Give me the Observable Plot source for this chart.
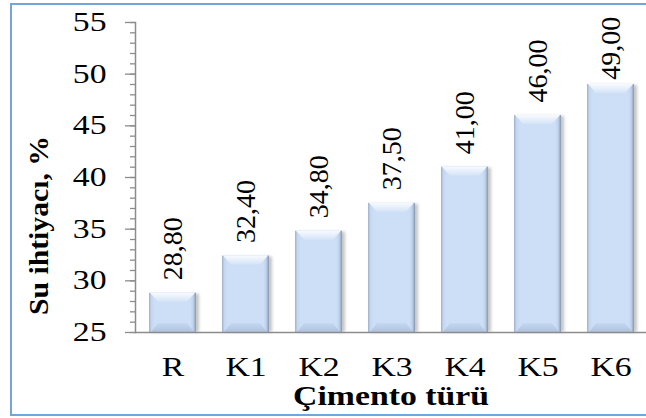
<!DOCTYPE html>
<html>
<head>
<meta charset="utf-8">
<script src="https://cdn.jsdelivr.net/npm/d3@7"></script>
<script src="https://cdn.jsdelivr.net/npm/@observablehq/plot@0.6"></script>
<style>
  body { margin: 0; background: #fff; }
  #chart { position: relative; width: 646px; height: 418px; overflow: hidden; }
  #chart svg { position: absolute; left: 0; top: 0; }
  #box { position: absolute; left: 10px; top: 3px; width: 680px; height: 413px;
         border: 2px solid #6ea6dd; box-sizing: border-box; pointer-events: none; }
</style>
</head>
<body>
<div id="chart"><div id="box"></div></div>
<script>
// Water demand by cement type
const cements = ["R", "K1", "K2", "K3", "K4", "K5", "K6"];
const water = [28.80, 32.40, 34.80, 37.50, 41.00, 46.00, 49.00];
const yTicks = [25, 30, 35, 40, 45, 50, 55];
const yMinorTicks = d3.range(25, 56, 1);
const yTitle = "Su ihtiyacı, %";
const xTitle = "Çimento türü";
// highest value at which a rotated label can start and still fit above the bar
const labelCeiling = 48.2;

const data = cements.map((c, i) => ({cement: c, water: water[i]}));
const fmt = (v) => v.toFixed(2).replace(".", ",");
const serif = "Liberation Serif";
const axisGray = "#8c8c8c";

const chart = Plot.plot({
  width: 646,
  height: 418,
  marginLeft: 135,
  marginTop: 22,
  marginBottom: 86,
  marginRight: 0,
  style: {fontFamily: serif, fontSize: "27px", color: "#000", background: "transparent", overflow: "visible"},
  x: {domain: cements, range: [135, 648], paddingInner: 0.36, paddingOuter: 0.18},
  y: {domain: [25, 55]},
  marks: [
    Plot.barY(data, {x: "cement", y1: 25, y2: "water", fill: "url(#barFill)"}),
    Plot.ruleY([25], {stroke: axisGray, strokeWidth: 1.5}),
    Plot.frame({anchor: "left", stroke: axisGray, strokeWidth: 1.5}),
    Plot.axisY(yMinorTicks, {tickSize: 5, text: null, label: null, stroke: axisGray, strokeWidth: 1.3}),
    Plot.axisY(yTicks, {tickSize: 10, tickPadding: 19, label: null, stroke: axisGray, strokeWidth: 1.3, fontSize: 27}),
    Plot.axisX({tickSize: 0, tickPadding: 24, label: null, fontSize: 27}),
    Plot.text(data, {
      x: "cement",
      y: (d) => Math.min(d.water, labelCeiling),
      text: (d) => fmt(d.water),
      rotate: -90,
      textAnchor: "start",
      lineAnchor: "middle",
      dy: -13,
      fontSize: 28
    }),
    Plot.text([yTitle], {
      frameAnchor: "left", rotate: -90, dx: -96, dy: 48,
      textAnchor: "middle", lineAnchor: "middle",
      fontSize: 27, fontWeight: "bold"
    }),
    Plot.text([xTitle], {
      frameAnchor: "bottom", dy: 64,
      textAnchor: "middle", lineAnchor: "middle",
      fontSize: 27, fontWeight: "bold"
    })
  ]
});

document.getElementById("chart").insertBefore(chart, document.getElementById("box"));

const svg = d3.select(chart);
svg.selectAll("text").attr("font-family", serif).style("font-family", serif).attr("fill", "#000");
const defs = svg.insert("defs", ":first-child");

function linear(id, horizontal, stops) {
  const g = defs.append("linearGradient").attr("id", id)
    .attr("x1", 0).attr("y1", 0).attr("x2", horizontal ? 1 : 0).attr("y2", horizontal ? 0 : 1);
  stops.forEach(([o, c]) => g.append("stop").attr("offset", o).attr("stop-color", c));
}
linear("barFill", true, [[0, "#9fb1ca"], [0.05, "#c4d7f0"], [0.12, "#cddff6"], [0.88, "#cddff6"], [0.94, "#bfd2ec"], [1, "#8797ae"]]);
linear("bevelTop", false, [[0, "#f8fbff"], [1, "#d4e3f7"]]);
linear("bevelBottom", false, [[0, "#c4d7f0"], [1, "#abc0dc"]]);
defs.append("filter").attr("id", "soft").attr("x", "-20%").attr("y", "-20%").attr("width", "140%").attr("height", "140%")
  .append("feGaussianBlur").attr("stdDeviation", 1.6);

// bevelled faces and a soft shadow on each bar
svg.selectAll('g[aria-label="bar"] rect').each(function () {
  const r = d3.select(this);
  const x = +r.attr("x"), y = +r.attr("y"), w = +r.attr("width"), h = +r.attr("height");
  const g = d3.select(this.parentNode);
  const node = this;
  g.insert("rect", () => node)
    .attr("x", x + 2).attr("y", y + 1).attr("width", w + 1).attr("height", h - 1)
    .attr("fill", "#7f7f7f").attr("opacity", 0.45).attr("filter", "url(#soft)");
  const b = 9;
  g.append("polygon")
    .attr("points", `${x + 1},${y} ${x + w - 1},${y} ${x + w - b},${y + b} ${x + b},${y + b}`)
    .attr("fill", "url(#bevelTop)");
  g.append("polygon")
    .attr("points", `${x + 2},${y + h} ${x + w - 2},${y + h} ${x + w - b},${y + h - b} ${x + b},${y + h - b}`)
    .attr("fill", "url(#bevelBottom)").attr("opacity", 0.9);
});

// horizontal labels are drawn slightly wide; the vertical title slightly long
const wide = new Set([...yTicks.map(String), ...cements, xTitle]);
svg.selectAll("text").each(function () {
  const t = d3.select(this);
  const s = wide.has(this.textContent) ? " scale(1.25,1)" : this.textContent === yTitle ? " scale(1.1,1)" : "";
  if (s) t.attr("transform", (t.attr("transform") || "") + s);
});
</script>
</body>
</html>
